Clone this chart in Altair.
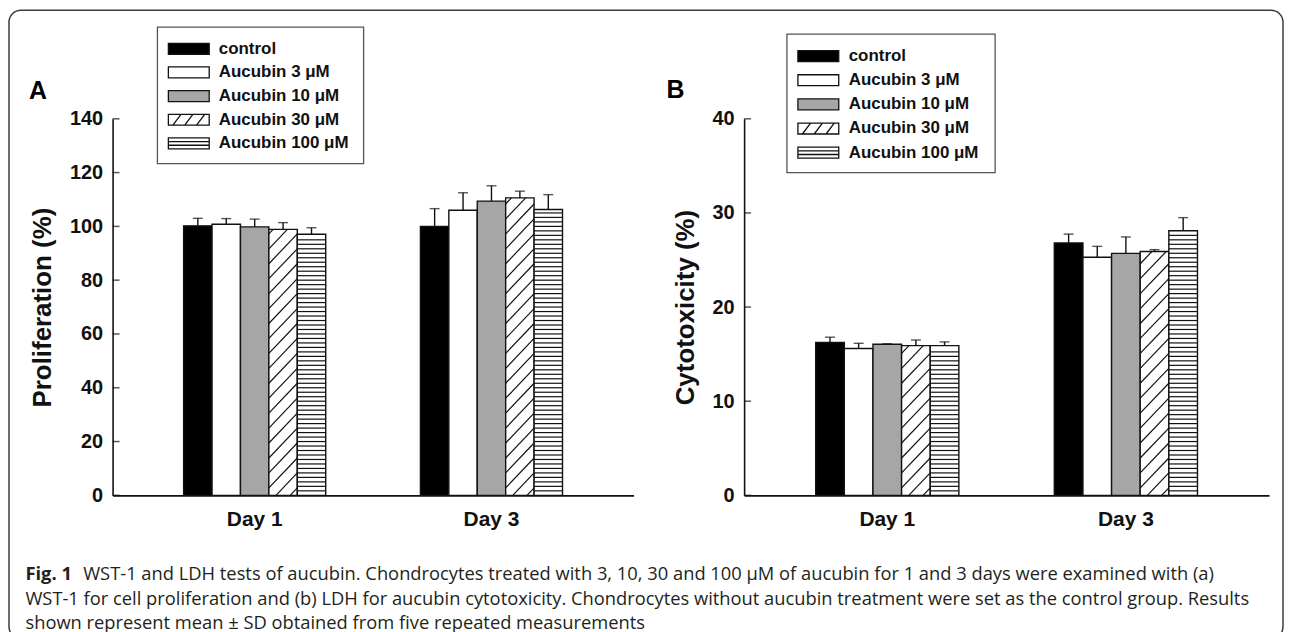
import altair as alt
import pandas as pd

# ---------------- data ----------------
days = ["Day 1", "Day 3"]
series = ["control", "Aucubin 3 μM", "Aucubin 10 μM", "Aucubin 30 μM", "Aucubin 100 μM"]
fills = ["#000000", "#ffffff", "#a6a6a6", "#ffffff", "#ffffff"]

prolif_day1 = [100.2, 100.8, 99.8, 98.9, 97.1]
prolif_day3 = [100.0, 106.0, 109.4, 110.6, 106.3]
prolif_sd_day1 = [2.8, 2.1, 2.9, 2.5, 2.4]
prolif_sd_day3 = [6.6, 6.5, 5.7, 2.5, 5.5]

cyto_day1 = [16.25, 15.6, 16.05, 15.9, 15.9]
cyto_day3 = [26.8, 25.3, 25.7, 25.9, 28.1]
cyto_sd_day1 = [0.55, 0.55, 0.05, 0.6, 0.4]
cyto_sd_day3 = [0.95, 1.15, 1.75, 0.2, 1.4]

prolif_ticks = [0, 20, 40, 60, 80, 100, 120, 140]
cyto_ticks = [0, 10, 20, 30, 40]

caption_fig = "Fig. 1"
caption_1 = ("WST-1 and LDH tests of aucubin. Chondrocytes treated with 3, 10, 30 and 100 μM "
             "of aucubin for 1 and 3 days were examined with (a)")
caption_2 = ("WST-1 for cell proliferation and (b) LDH for aucubin cytotoxicity. Chondrocytes "
             "without aucubin treatment were set as the control group. Results")
caption_3 = "shown represent mean ± SD obtained from five repeated measurements"

# ---------------- style ----------------
FONT = "Liberation Sans"
CAP_FONT = "Open Sans"
CAP_SIZE = 18.4
PLOT_H = 378
HATCH_GAP_PX = 15.0
HATCH_RISE_PX = 30.0
STRIPE_PX = 4.5

# legend swatch shapes (unit box, 41x11 px swatch)
R = "M-1,-0.268H1V0.268H-1Z"
legend_paths = [
    R,
    R,
    R,
    R + " M-0.78,0.268L-0.38,-0.268 M-0.2,0.268L0.2,-0.268 M0.38,0.268L0.78,-0.268",
    R + " M-1,-0.09H1 M-1,0.09H1",
]


def bar_table(d1, d3, s1, s3):
    rows = []
    for day, means, sds in [("Day 1", d1, s1), ("Day 3", d3, s3)]:
        for i, name in enumerate(series):
            rows.append({"day": day, "series": name, "mean": means[i],
                         "hi": means[i] + sds[i]})
    return pd.DataFrame(rows)


def hatch_table(d1, d3, ymax):
    k = PLOT_H / ymax
    gap, rise, stripe = HATCH_GAP_PX / k, HATCH_RISE_PX / k, STRIPE_PX / k
    rows, lid = [], 0
    for day, means in [("Day 1", d1), ("Day 3", d3)]:
        # diagonal hatch for 30 uM bar
        top, s = means[3], 3
        c = -rise + gap * 0.5
        while c < top:
            u0, y0, u1, y1 = s, c, s + 1, c + rise
            if y0 < 0:
                u0, y0 = s + (-c) / rise, 0.0
            if y1 > top:
                u1, y1 = s + (top - c) / rise, top
            if u1 > u0:
                rows.append({"day": day, "lid": lid, "pt": 0, "u": u0, "y": y0})
                rows.append({"day": day, "lid": lid, "pt": 1, "u": u1, "y": y1})
                lid += 1
            c += gap
        # horizontal stripes for 100 uM bar
        top, s = means[4], 4
        yy = stripe
        while yy < top - stripe * 0.5:
            rows.append({"day": day, "lid": lid, "pt": 0, "u": s, "y": yy})
            rows.append({"day": day, "lid": lid, "pt": 1, "u": s + 1, "y": yy})
            lid += 1
            yy += stripe
    return pd.DataFrame(rows)


def panel(df, hdf, ymax, ticks, ytitle, width, letter, letter_xy, box, rows_y, sym_x, txt_x,
          extras=()):
    xdef = alt.X("day:N", sort=days, title=None,
                 scale=alt.Scale(paddingInner=0.4, paddingOuter=0.3),
                 axis=alt.Axis(labelAngle=0, labelFont=FONT, labelFontSize=21,
                               labelFontWeight="bold", labelColor="#111", labelPadding=13,
                               ticks=False, tickSize=0, domainColor="#111", domainWidth=1.6))
    yscale = alt.Scale(domain=[0, ymax], nice=False, zero=True)
    xoff = alt.XOffset("series:N", sort=series, scale=alt.Scale(paddingInner=0, paddingOuter=0))
    fill = alt.Fill("series:N", scale=alt.Scale(domain=series, range=fills), legend=None)

    bars = alt.Chart(df).mark_bar(stroke="#111", strokeWidth=1.4).encode(
        x=xdef, xOffset=xoff,
        y=alt.Y("mean:Q", scale=yscale,
                axis=alt.Axis(values=ticks, title=ytitle, titleFont=FONT, titleFontSize=26,
                              titleFontWeight="bold", titleColor="#111", titlePadding=14,
                              labelFont=FONT, labelFontSize=20, labelFontWeight="bold",
                              labelColor="#111", labelPadding=10, ticks=False, tickSize=0,
                              grid=False, domainColor="#111", domainWidth=1.6)),
        fill=fill,
    )
    hatch = alt.Chart(hdf).mark_line(color="#111", strokeWidth=1.2).encode(
        x=xdef,
        xOffset=alt.XOffset("u:Q", scale=alt.Scale(domain=[0, 5], nice=False, zero=False)),
        y=alt.Y("y:Q", scale=yscale, axis=None),
        detail="lid:N",
        order="pt:Q",
    )
    err = alt.Chart(df).mark_rule(color="#111", strokeWidth=1.4).encode(
        x=xdef, xOffset=xoff, y=alt.Y("mean:Q", scale=yscale, axis=None), y2="hi:Q")
    caps = alt.Chart(df).mark_tick(color="#111", thickness=1.4, size=10,
                                   orient="horizontal").encode(
        x=xdef, xOffset=xoff, y=alt.Y("hi:Q", scale=yscale, axis=None))
    yticks = alt.Chart(pd.DataFrame({"v": ticks})).mark_tick(
        color="#111", thickness=1.5, size=7, orient="horizontal").encode(
        x=alt.value(3.5), y=alt.Y("v:Q", scale=yscale, axis=None))

    lab = alt.Chart(pd.DataFrame({"t": [letter]})).mark_text(
        font=FONT, fontSize=25, fontWeight="bold", align="left", baseline="alphabetic",
        color="#000").encode(x=alt.value(letter_xy[0]), y=alt.value(letter_xy[1]), text="t:N")

    legbox = alt.Chart(pd.DataFrame({"a": [0]})).mark_rect(
        fill="#ffffff", stroke="#555", strokeWidth=1.3).encode(
        x=alt.value(box[0]), x2=alt.value(box[1]), y=alt.value(box[2]), y2=alt.value(box[3]))
    leg_df = pd.DataFrame({"series": series})
    leg_y = alt.Y("series:N", sort=series, axis=None,
                  scale=alt.Scale(type="point", domain=series, range=rows_y, padding=0))
    legsym = alt.Chart(leg_df).mark_point(filled=True, stroke="#111", strokeWidth=1.3,
                                          size=41 * 41, opacity=1).encode(
        x=alt.value(sym_x), y=leg_y, fill=fill,
        shape=alt.Shape("series:N", scale=alt.Scale(domain=series, range=legend_paths),
                        legend=None))
    legtxt = alt.Chart(leg_df).mark_text(font=FONT, fontSize=17, fontWeight="bold",
                                         align="left", baseline="middle", color="#111").encode(
        x=alt.value(txt_x), y=leg_y, text="series:N")

    layers = list(extras) + [bars, hatch, err, caps, yticks, lab, legbox, legsym, legtxt]
    return alt.layer(*layers).resolve_scale(
        y="independent", xOffset="independent").properties(width=width, height=PLOT_H)


# frame and caption (drawn in panel A coordinates)
frame = alt.Chart(pd.DataFrame({"a": [0]})).mark_rect(
    fill="transparent", stroke="#3c3c3c", strokeWidth=1.5, cornerRadius=12).encode(
    x=alt.value(-104), x2=alt.value(1175), y=alt.value(-109), y2=alt.value(522))


def cap_text(txt, x, y, bold=False):
    return alt.Chart(pd.DataFrame({"t": [txt]})).mark_text(
        font=CAP_FONT, fontSize=CAP_SIZE, fontWeight="bold" if bold else "normal",
        align="left", baseline="middle", color="#231f20").encode(
        x=alt.value(x), y=alt.value(y), text="t:N")


captions = [
    cap_text(caption_fig, -87.5, 457, bold=True),
    cap_text(caption_1, -29.5, 457),
    cap_text(caption_2, -87.5, 482),
    cap_text(caption_3, -87.5, 506),
]

dfA = bar_table(prolif_day1, prolif_day3, prolif_sd_day1, prolif_sd_day3)
dfB = bar_table(cyto_day1, cyto_day3, cyto_sd_day1, cyto_sd_day3)
hA = hatch_table(prolif_day1, prolif_day3, 140)
hB = hatch_table(cyto_day1, cyto_day3, 40)

panelA = panel(dfA, hA, 140, prolif_ticks, "Proliferation (%)", 523, "A", (-84, -20),
               (45, 252, -92, 45), [-70.3, 24.7], 76.5, 106.6,
               extras=[frame] + captions)
panelB = panel(dfB, hB, 40, cyto_ticks, "Cytotoxicity (%)", 527, "B", (-78, -21),
               (43, 252, -85, 54), [-63, 34], 74.5, 105)

chart = alt.hconcat(panelA, panelB, spacing=111, bounds="flush").properties(
    padding=0
).configure_view(stroke=None)

chart.save("out.html", embed_options={"renderer": "svg", "actions": False})
